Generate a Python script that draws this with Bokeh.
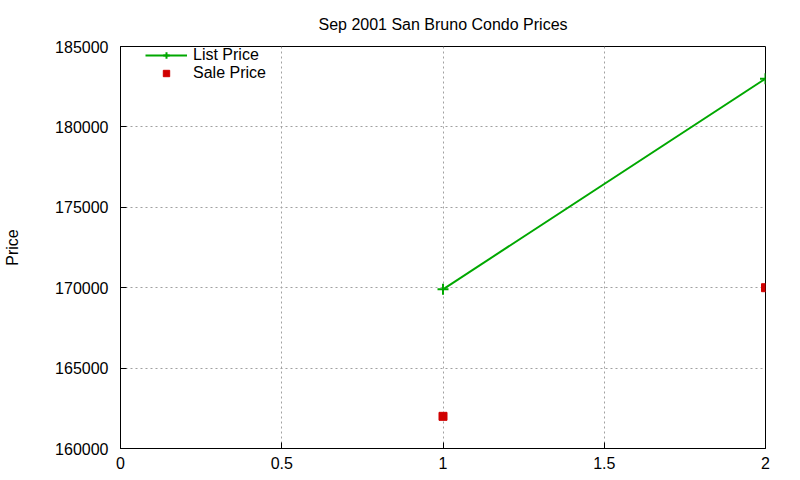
from bokeh.plotting import figure
from bokeh.models import Range1d, FixedTicker, Legend, LegendItem, ColumnDataSource, BasicTickFormatter
from bokeh.embed import file_html
from bokeh.resources import INLINE

title_text = "Sep 2001 San Bruno Condo Prices"
y_label = "Price"
list_x = [1, 2]
list_price = [169900, 183000]
sale_x = [1, 2]
sale_price = [162000, 170000]
x_ticks = [0, 0.5, 1, 1.5, 2]
y_ticks = [160000, 165000, 170000, 175000, 180000, 185000]

FONT = "Liberation Sans"
GREEN = "#00a800"
RED = "#d00000"

p = figure(width=792, height=472, output_backend="svg", toolbar_location=None,
           x_range=Range1d(0, 2), y_range=Range1d(160000, 185000),
           min_border_left=120, min_border_right=27, min_border_top=46, min_border_bottom=24)

p.title.text = title_text
p.title.align = "center"
p.title.text_font = FONT
p.title.text_font_size = "16px"
p.title.text_font_style = "normal"
p.title.text_color = "black"
p.title.standoff = 27

p.outline_line_color = "black"
p.outline_line_width = 1
p.outline_line_alpha = 1

for ax in (p.xaxis[0], p.yaxis[0]):
    ax.major_label_text_font = FONT
    ax.major_label_text_font_size = "16px"
    ax.major_label_text_color = "black"
    ax.axis_line_color = "black"
    ax.major_tick_line_color = "black"
    ax.major_tick_in = 6
    ax.major_tick_out = 0
    ax.minor_tick_line_color = None

p.xaxis[0].ticker = FixedTicker(ticks=x_ticks)
p.yaxis[0].ticker = FixedTicker(ticks=y_ticks)
p.yaxis[0].formatter = BasicTickFormatter(use_scientific=False)
p.xaxis[0].major_label_standoff = 8
p.yaxis[0].major_label_standoff = 12
p.yaxis[0].axis_label = y_label
p.yaxis[0].axis_label_text_font = FONT
p.yaxis[0].axis_label_text_font_size = "16px"
p.yaxis[0].axis_label_text_font_style = "normal"
p.yaxis[0].axis_label_text_color = "black"
p.yaxis[0].axis_label_standoff = 31

for g in (p.xgrid[0], p.ygrid[0]):
    g.grid_line_color = "#a0a0a0"
    g.grid_line_dash = "2 3"
    g.grid_line_width = 1

list_src = ColumnDataSource(dict(x=list_x, y=list_price))
sale_src = ColumnDataSource(dict(x=sale_x, y=sale_price))

r_line = p.line("x", "y", source=list_src, line_color=GREEN, line_width=2)
r_pts = p.scatter("x", "y", source=list_src, marker="cross", size=11, line_color=GREEN, line_width=2)
r_sale = p.scatter("x", "y", source=sale_src, marker="square", size=8, fill_color=RED, line_color=RED)

legend = Legend(items=[LegendItem(label="List Price", renderers=[r_line, r_pts]),
                       LegendItem(label="Sale Price", renderers=[r_sale])],
                location=(25, 366), border_line_color=None, background_fill_alpha=0,
                label_text_font=FONT, label_text_font_size="16px", label_text_color="black",
                glyph_width=42, glyph_height=16, spacing=0, padding=2, margin=0,
                label_height=16, label_standoff=6)
p.add_layout(legend)

open("out.html", "w").write(file_html(p, INLINE))
